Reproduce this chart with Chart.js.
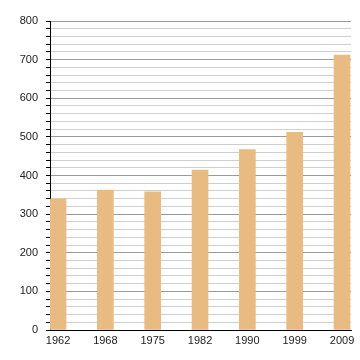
<!DOCTYPE html>
<html lang="en">
<head>
    <meta charset="UTF-8">
    <title>Bar chart</title>
    <script src="https://cdn.jsdelivr.net/npm/chart.js"></script>
    <style>
        html, body { margin: 0; padding: 0; background: #ffffff; }
        .wrap { width: 360px; height: 360px; }
    </style>
</head>
<body>
    <div class="wrap"><canvas id="chart" width="360" height="360"></canvas></div>
    <script>
        // --- Data ---
        const years = ['1962', '1968', '1975', '1982', '1990', '1999', '2009'];
        const values = [339, 362, 358, 414, 467, 512, 712];
        const yTicks = [0, 100, 200, 300, 400, 500, 600, 700, 800];

        const barColor = '#e8bb82';
        const font = { family: '"Liberation Sans", Arial, sans-serif', size: 11 };

        const ctx = document.getElementById('chart').getContext('2d');
        new Chart(ctx, {
            type: 'bar',
            data: {
                datasets: [{
                    data: values.map((v, i) => ({ x: i, y: v })),
                    backgroundColor: barColor,
                    borderWidth: 0,
                    barThickness: 16
                }]
            },
            options: {
                responsive: false,
                animation: false,
                layout: { padding: { left: 0, right: 9, top: 21, bottom: 0 } },
                plugins: { legend: { display: false }, tooltip: { enabled: false } },
                scales: {
                    x: {
                        type: 'linear',
                        offset: false,
                        min: -0.17,
                        max: 6.19,
                        afterBuildTicks: s => { s.ticks = years.map((_, i) => ({ value: i })); },
                        afterFit: s => { s.height = 30; },
                        grid: { display: false, drawTicks: false, offset: false },
                        border: { color: '#000', width: 1 },
                        ticks: {
                            color: '#222', font, padding: 4, maxRotation: 0, autoSkip: false,
                            callback: v => years[v]
                        }
                    },
                    y: {
                        min: 0,
                        max: 800,
                        afterFit: s => { s.width = 50; },
                        ticks: {
                            stepSize: 20, autoSkip: false, color: '#222', font, padding: 8,
                            callback: v => yTicks.includes(v) ? v : ''
                        },
                        grid: {
                            color: c => (c.tick && c.tick.value % 100 === 0) ? '#9a9a9a' : '#cfcfcf',
                            tickColor: '#000',
                            tickLength: 4
                        },
                        border: { color: '#000', width: 1 }
                    }
                }
            }
        });
    </script>
</body>
</html>
